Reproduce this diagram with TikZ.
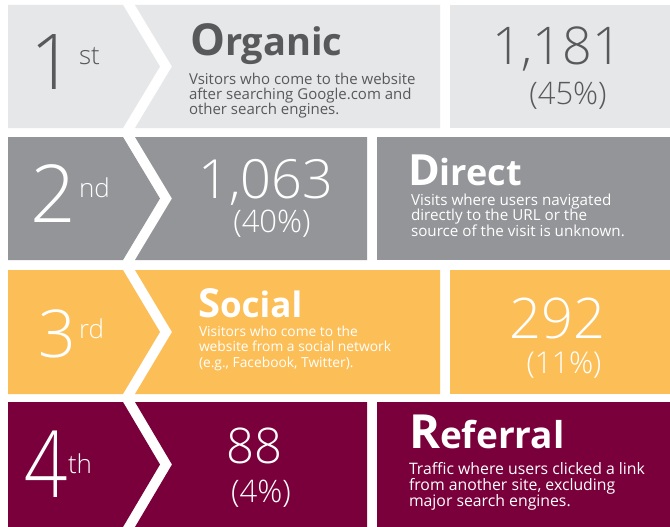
\documentclass[tikz,border=0pt]{standalone}
\usepackage{fontspec}
\setmainfont{Open Sans}
\newfontfamily\lightfont{Open Sans Light}
\definecolor{lgray}{HTML}{E6E7E8}
\definecolor{txtgray}{HTML}{58595B}
\definecolor{mgray}{HTML}{939598}
\definecolor{yel}{HTML}{FCBF58}
\definecolor{maroon}{HTML}{7A003C}
\newcommand\fs[1]{\fontsize{#1}{#1}\selectfont}
\begin{document}
\begin{tikzpicture}[x=1pt,y=-1pt,
  every node/.style={inner sep=0pt,outer sep=0pt},
  desc/.style={anchor=base west,font=\fs{13.5}},
  bignum/.style={anchor=base,font=\lightfont},
  supnum/.style={anchor=base west,font=\lightfont\fs{26}},
  title/.style={anchor=base west,font=\bfseries}]
\useasboundingbox (0,0) rectangle (670,527);
\fill[white] (0,0) rectangle (670,527);
% Row 1
\fill[lgray] (8,5) -- (123,5) -- (160,66.5) -- (123,128) -- (8,128) -- cycle;
\fill[lgray] (135,5) -- (440,5) -- (440,128) -- (135,128) -- (172,66.5) -- cycle;
\fill[lgray] (450,5) rectangle (670,128);
% Row 2
\fill[mgray] (8,137) -- (123,137) -- (160,198.5) -- (123,260) -- (8,260) -- cycle;
\fill[mgray] (135,137) -- (367,137) -- (367,260) -- (135,260) -- (172,198.5) -- cycle;
\fill[mgray] (377,137) rectangle (670,260);
% Row 3
\fill[yel] (8,270) -- (123,270) -- (160,332) -- (123,394) -- (8,394) -- cycle;
\fill[yel] (135,270) -- (440,270) -- (440,394) -- (135,394) -- (172,332) -- cycle;
\fill[yel] (450,270) rectangle (670,394);
% Row 4
\fill[maroon] (8,402) -- (123,402) -- (160,464.5) -- (123,527) -- (8,527) -- cycle;
\fill[maroon] (135,402) -- (367,402) -- (367,527) -- (135,527) -- (172,464.5) -- cycle;
\fill[maroon] (377,402) rectangle (670,527);

% ---- Row 1 text
\node[bignum,text=txtgray,font=\lightfont\fs{77}] (r1) at (52,90) {1};
\node[supnum,text=txtgray] (s1) at (79,65) {st};
\node[title,text=txtgray] (t1) at (190,56) {{\fs{44}O}{\fs{38}rganic}};
\node[desc,text=txtgray,font=\fs{15}] (d1a) at (189,84.5) {Vsitors who come to the website};
\node[desc,text=txtgray,font=\fs{15}] (d1b) at (189,99.5) {after searching Google.com and};
\node[desc,text=txtgray,font=\fs{15}] (d1c) at (189,114.5) {other search engines.};
\node[bignum,text=txtgray,font=\lightfont\fs{52}] (n1) at (557,65) {1,181};
\node[bignum,text=txtgray,font=\lightfont\fs{31}] (p1) at (568,104) {(45\%)};

% ---- Row 2 text
\node[bignum,text=white,font=\lightfont\fs{80}] (r2) at (53.5,222) {2};
\node[supnum,text=white] (s2) at (79,197) {nd};
\node[bignum,text=white,font=\lightfont\fs{54}] (n2) at (266,198) {1,063};
\node[bignum,text=white,font=\lightfont\fs{31}] (p2) at (272,232) {(40\%)};
\node[title,text=white] (t2) at (408,185) {{\fs{43}D}{\fs{36}irect}};
\node[desc,text=white,font=\fs{15.2}] (d2a) at (411,205) {Visits where users navigated};
\node[desc,text=white,font=\fs{15.2}] (d2b) at (411,220.5) {directly to the URL or the};
\node[desc,text=white,font=\fs{15.2}] (d2c) at (411,236) {source of the visit is unknown.};

% ---- Row 3 text
\node[bignum,text=white,font=\lightfont\fs{66}] (r3) at (57,357) {3};
\node[supnum,text=white] (s3) at (79,338) {rd};
\node[title,text=white] (t3) at (198,317) {{\fs{40}S}{\fs{35}ocial}};
\node[desc,text=white,font=\fs{13.8}] (d3a) at (199,336) {Visitors who come to the};
\node[desc,text=white,font=\fs{13.8}] (d3b) at (199,351.5) {website from a social network};
\node[desc,text=white,font=\fs{13.8}] (d3c) at (199,367) {(e.g., Facebook, Twitter).};
\node[bignum,text=white,font=\lightfont\fs{56}] (n3) at (557,338) {292};
\node[bignum,text=white,font=\lightfont\fs{30}] (p3) at (564,373) {(11\%)};

% ---- Row 4 text
\node[bignum,text=white,font=\lightfont\fs{76},yscale=1.22] (r4) at (46.5,497) {4};
\node[supnum,text=white] (s4) at (68,473) {th};
\node[bignum,text=white,font=\lightfont\fs{49}] (n4) at (254,463) {88};
\node[bignum,text=white,font=\lightfont\fs{31}] (p4) at (261,502) {(4\%)};
\node[title,text=white] (t4) at (409,448) {{\fs{47}R}{\fs{37}eferral}};
\node[desc,text=white,font=\fs{15.8}] (d4a) at (409,474.5) {Traffic where users clicked a link};
\node[desc,text=white,font=\fs{15.8}] (d4b) at (409,490.5) {from another site, excluding};
\node[desc,text=white,font=\fs{15.8}] (d4c) at (409,506.5) {major search engines.};
\end{tikzpicture}
\end{document}
